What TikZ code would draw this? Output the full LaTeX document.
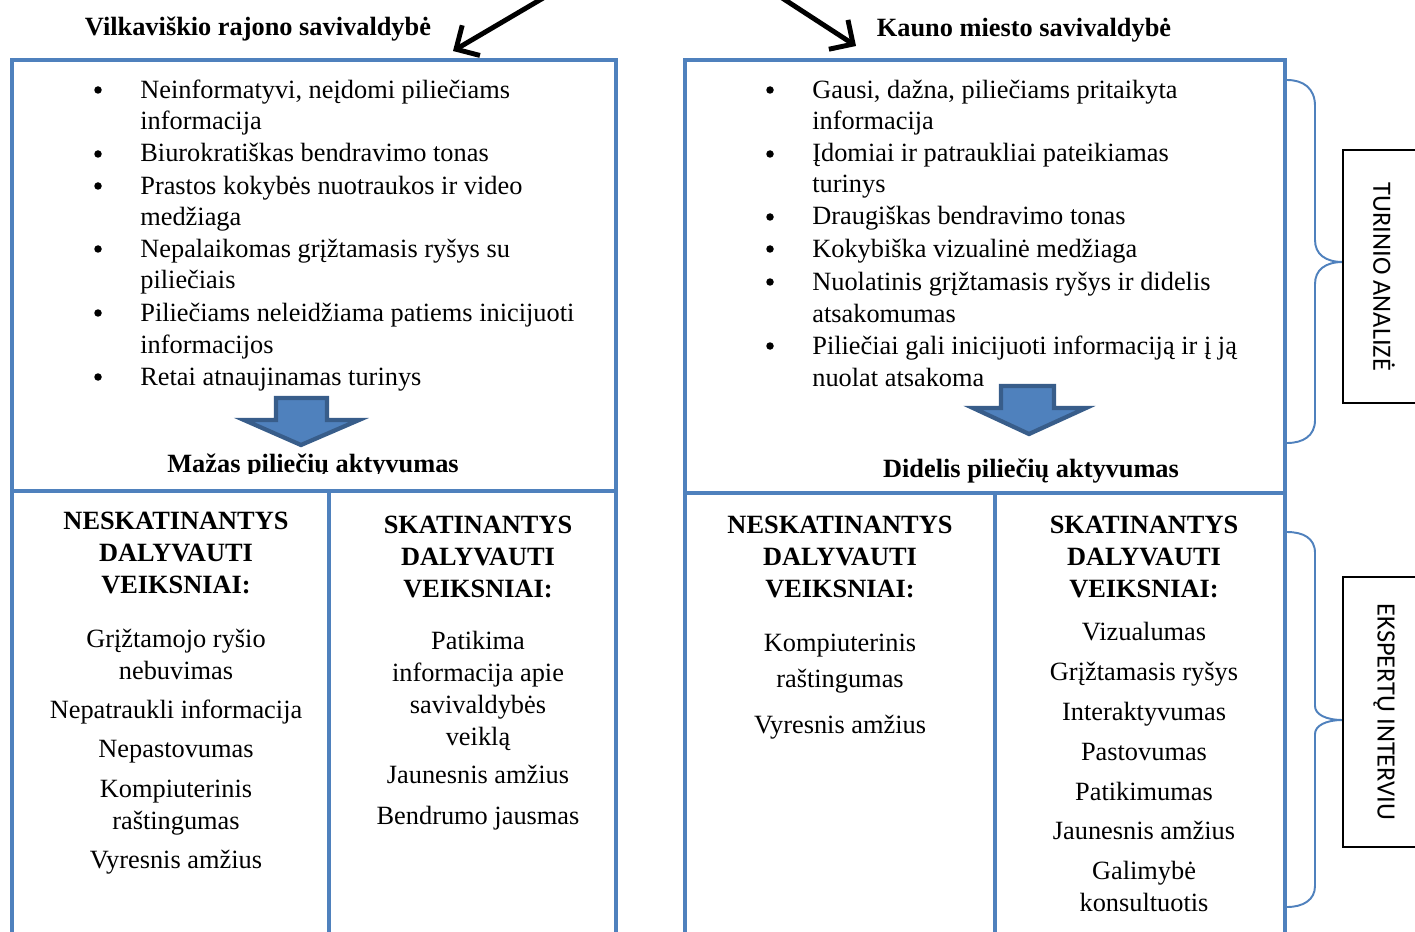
\documentclass[tikz,border=0pt]{standalone}
\usepackage{fontspec}
\setmainfont{Liberation Serif}
\newfontfamily\calibrifont{Carlito}
\usetikzlibrary{arrows.meta}
\usetikzlibrary{positioning}

\definecolor{boxblue}{HTML}{4F81BD}
\definecolor{edgeblue}{HTML}{385D8A}

\tikzset{
  frame/.style={draw=boxblue, line width=2.8pt, line join=miter},
  txt/.style={font=\fontsize{15}{18.15}\selectfont, inner sep=0pt},
  head/.style={txt, font=\fontsize{15}{18.15}\selectfont\bfseries, align=center, anchor=base},
  dot/.style={circle, fill=black, inner sep=0pt, minimum size=0.15cm},
  item/.style={txt, align=left, anchor=base west},
  factor/.style={txt, align=center, anchor=base},
  blockarrow/.style={fill=boxblue, draw=edgeblue, line width=2.4pt, line join=miter},
  brace/.style={draw=boxblue, line width=1.1pt},
  method/.style={draw=black, line width=1pt},
  methodtext/.style={font=\calibrifont\fontsize{15}{18}\selectfont, rotate=-90, inner sep=0pt},
  pointer/.style={-{Straight Barb[length=3.5mm, width=7mm]}, line width=2.8pt}
}

\begin{document}
\begin{tikzpicture}[x=0.02cm, y=-0.02cm]
    \clip (0,0) rectangle (1415,932);
    \fill[white] (0,0) rectangle (1415,932);

    % pointers from above
    \coordinate (leftsrc) at (550,-6);
    \coordinate (lefttip) at (453,51);
    \coordinate (rightsrc) at (776,-6);
    \coordinate (righttip) at (856,46);
    \draw[pointer] (leftsrc) -- (lefttip);
    \draw[pointer] (rightsrc) -- (righttip);

    % titles
    \node[head] (vilk) at (258,36) {Vilkaviškio rajono savivaldybė};
    \node[head] (kaun) at (1024,37) {Kauno miesto savivaldybė};

    % frames
    \draw[frame] (12,960) -- (12,60) -- (616,60) -- (616,960);
    \draw[frame] (12,491) -- (616,491);
    \draw[frame] (329,491) -- (329,960);
    \draw[frame] (685,960) -- (685,60) -- (1285,60) -- (1285,960);
    \draw[frame] (685,493) -- (1285,493);
    \draw[frame] (995,493) -- (995,960);

    % left content analysis (base = last line)
    \node[dot] (lb1) at (98,90) {};
    \node[item] (li1) at (140,130) {Neinformatyvi, neįdomi piliečiams\\informacija};
    \node[dot] (lb2) at (98,154) {};
    \node[item] (li2) at (140,162) {Biurokratiškas bendravimo tonas};
    \node[dot] (lb3) at (98,186) {};
    \node[item] (li3) at (140,226) {Prastos kokybės nuotraukos ir video\\medžiaga};
    \node[dot] (lb4) at (98,249) {};
    \node[item] (li4) at (140,289) {Nepalaikomas grįžtamasis ryšys su\\piliečiais};
    \node[dot] (lb5) at (98,313) {};
    \node[item] (li5) at (140,353) {Piliečiams neleidžiama patiems inicijuoti\\informacijos};
    \node[dot] (lb6) at (98,377) {};
    \node[item] (li6) at (140,385) {Retai atnaujinamas turinys};

    \filldraw[blockarrow] (276,398) -- (327,398) -- (327,420) -- (359,420) -- (301,445) -- (244,420) -- (276,420) -- cycle;
    \begin{scope}
      \clip (14,440) rectangle (614,473);
      \node[head] (mazas) at (313,472) {Mažas piliečių aktyvumas};
    \end{scope}

    % right content analysis
    \node[dot] (rb1) at (770,90) {};
    \node[item] (ri1) at (812,130) {Gausi, dažna, piliečiams pritaikyta\\informacija};
    \node[dot] (rb2) at (770,154) {};
    \node[item] (ri2) at (812,193) {Įdomiai ir patraukliai pateikiamas\\turinys};
    \node[dot] (rb3) at (770,217) {};
    \node[item] (ri3) at (812,225) {Draugiškas bendravimo tonas};
    \node[dot] (rb4) at (770,249) {};
    \node[item] (ri4) at (812,257) {Kokybiška vizualinė medžiaga};
    \node[dot] (rb5) at (770,282) {};
    \node[item] (ri5) at (812,322) {Nuolatinis grįžtamasis ryšys ir didelis\\atsakomumas};
    \node[dot] (rb6) at (770,346) {};
    \node[item] (ri6) at (812,386) {Piliečiai gali inicijuoti informaciją ir į ją\\nuolat atsakoma};

    \filldraw[blockarrow] (1001,386) -- (1054,386) -- (1054,408) -- (1086,408) -- (1029,434) -- (973,408) -- (1001,408) -- cycle;
    \node[head] (didelis) at (1031,477) {Didelis piliečių aktyvumas};

    % Vilkaviskis factors
    \node[head] (vneg) at (176,593) {NESKATINANTYS\\DALYVAUTI\\VEIKSNIAI:};
    \node[factor] (vn1) at (176,679) {Grįžtamojo ryšio\\nebuvimas};
    \node[factor] (vn2) at (176,718) {Nepatraukli informacija};
    \node[factor] (vn3) at (176,757) {Nepastovumas};
    \node[factor] (vn4) at (176,829) {Kompiuterinis\\raštingumas};
    \node[factor] (vn5) at (176,868) {Vyresnis amžius};

    \node[head] (vpos) at (478,597) {SKATINANTYS\\DALYVAUTI\\VEIKSNIAI:};
    \node[factor] (vp1) at (478,745) {Patikima\\informacija apie\\savivaldybės\\veiklą};
    \node[factor] (vp2) at (478,783) {Jaunesnis amžius};
    \node[factor] (vp3) at (478,824) {Bendrumo jausmas};

    % Kaunas factors
    \node[head] (kneg) at (840,597) {NESKATINANTYS\\DALYVAUTI\\VEIKSNIAI:};
    \node[factor] (kn1) at (840,651) {Kompiuterinis};
    \node[factor] (kn1b) at (840,687) {raštingumas};
    \node[factor] (kn2) at (840,733) {Vyresnis amžius};

    \node[head] (kpos) at (1144,597) {SKATINANTYS\\DALYVAUTI\\VEIKSNIAI:};
    \node[factor] (kp1) at (1144,640) {Vizualumas};
    \node[factor] (kp2) at (1144,680) {Grįžtamasis ryšys};
    \node[factor] (kp3) at (1144,720) {Interaktyvumas};
    \node[factor] (kp4) at (1144,760) {Pastovumas};
    \node[factor] (kp5) at (1144,800) {Patikimumas};
    \node[factor] (kp6) at (1144,839) {Jaunesnis amžius};
    \node[factor] (kp7) at (1144,911) {Galimybė\\konsultuotis};

    % braces and methods
    \draw[brace] (1287,80) .. controls (1303,80) and (1315,88) .. (1315,106) -- (1315,240)
        .. controls (1315,254) and (1325,262) .. (1343,262)
        .. controls (1325,262) and (1315,270) .. (1315,284) -- (1315,420)
        .. controls (1315,436) and (1303,443) .. (1287,443);
    \draw[brace] (1287,532) .. controls (1303,532) and (1315,538) .. (1315,553) -- (1315,706)
        .. controls (1315,714) and (1325,720) .. (1343,720)
        .. controls (1325,720) and (1315,726) .. (1315,734) -- (1315,886)
        .. controls (1315,900) and (1303,907) .. (1287,907);

    \draw[method] (1343,150) rectangle (1450,403);
    \node[methodtext] (turinys) at (1384,277) {TURINIO ANALIZĖ};
    \draw[method] (1343,577) rectangle (1450,847);
    \node[methodtext] (ekspertai) at (1384,712) {EKSPERTŲ INTERVIU};
\end{tikzpicture}
\end{document}
